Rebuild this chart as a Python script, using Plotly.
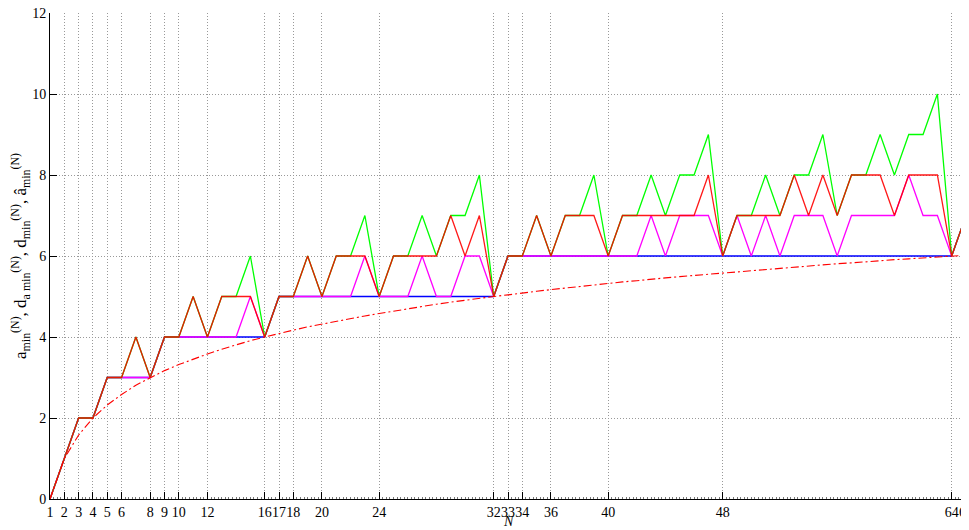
import plotly.graph_objects as go

N = list(range(1, 66))

a_min = [0, 1, 2, 2, 3, 3, 4, 3, 4, 4, 5, 4, 5, 5, 5, 4,
         5, 5, 6, 5, 6, 6, 6, 5, 6, 6, 6, 6, 7, 6, 7, 5,
         6, 6, 7, 6, 7, 7, 7, 6, 7, 7, 7, 7, 7, 7, 8, 6,
         7, 7, 7, 7, 8, 7, 8, 7, 8, 8, 8, 7, 8, 8, 8, 6, 7]

green = [0, 1, 2, 2, 3, 3, 4, 3, 4, 4, 5, 4, 5, 5, 6, 4,
         5, 5, 6, 5, 6, 6, 7, 5, 6, 6, 7, 6, 7, 7, 8, 5,
         6, 6, 7, 6, 7, 7, 8, 6, 7, 7, 8, 7, 8, 8, 9, 6,
         7, 7, 8, 7, 8, 8, 9, 7, 8, 8, 9, 8, 9, 9, 10, 6, 7]

magenta = [0, 1, 2, 2, 3, 3, 3, 3, 4, 4, 4, 4, 4, 4, 5, 4,
           5, 5, 5, 5, 5, 5, 6, 5, 5, 5, 6, 5, 5, 6, 6, 5,
           6, 6, 6, 6, 6, 6, 6, 6, 6, 6, 7, 6, 7, 7, 7, 6,
           7, 6, 7, 6, 7, 7, 7, 6, 7, 7, 7, 7, 8, 7, 7, 6, 7]

blue = [0, 1, 2, 2, 3, 3, 3, 3] + [4] * 8 + [5] * 16 + [6] * 32 + [7]

bound = [0.00, 1.00, 1.58, 2.00, 2.32, 2.58, 2.81, 3.00, 3.17, 3.32,
         3.46, 3.58, 3.70, 3.81, 3.91, 4.00, 4.09, 4.17, 4.25, 4.32,
         4.39, 4.46, 4.52, 4.58, 4.64, 4.70, 4.75, 4.81, 4.86, 4.91,
         4.95, 5.00, 5.04, 5.09, 5.13, 5.17, 5.21, 5.25, 5.29, 5.32,
         5.36, 5.39, 5.43, 5.46, 5.49, 5.52, 5.55, 5.58, 5.61, 5.64,
         5.67, 5.70, 5.73, 5.75, 5.78, 5.81, 5.83, 5.86, 5.88, 5.91,
         5.93, 5.95, 5.98, 6.00, 6.02]

xticks = [1, 2, 3, 4, 5, 6, 8, 9, 10, 12, 16, 17, 18, 20, 24, 32, 33, 34, 36, 40, 48, 64, 65]
yticks = [0, 2, 4, 6, 8, 10, 12]

serif = "Liberation Serif, Times New Roman, serif"

fig = go.Figure()
fig.add_trace(go.Scatter(x=N, y=blue, mode="lines", line=dict(color="#0000ff", width=1.3)))
fig.add_trace(go.Scatter(x=N, y=magenta, mode="lines", line=dict(color="#ff00ff", width=1.3)))
fig.add_trace(go.Scatter(x=N, y=green, mode="lines", line=dict(color="#00ff00", width=1.3)))
fig.add_trace(go.Scatter(x=N, y=a_min, mode="lines", opacity=0.9, line=dict(color="#ff0000", width=1.3)))
fig.add_trace(go.Scatter(x=N, y=bound, mode="lines", line=dict(color="#ff0000", width=1.1, dash="8px,3px,2px,3px")))

fig.update_layout(
    width=961, height=522,
    margin=dict(l=42, r=3, t=5, b=31),
    paper_bgcolor="white", plot_bgcolor="white",
    showlegend=False,
    font=dict(family=serif, size=14, color="black"),
    annotations=[dict(text="<i>N</i>", xref="paper", yref="paper", x=0.5, y=-0.046,
                      xanchor="center", yanchor="middle", showarrow=False,
                      font=dict(family=serif, size=14, color="black"))],
)
fig.update_xaxes(
    range=[1, 65], tickvals=xticks, ticktext=[str(v) for v in xticks],
    tickangle=0, automargin=False, ticklabeloverflow="allow",
    ticks="inside", ticklen=7, tickcolor="black", tickwidth=1,
    showline=True, linecolor="black", linewidth=1,
    showgrid=True, gridcolor="#999999", gridwidth=1, griddash="1px,2px",
    zeroline=False,
    minor=dict(ticks="inside", ticklen=2, dtick=0.25, tickcolor="#777777", showgrid=False),
    tickfont=dict(family=serif, size=14),
)
fig.update_yaxes(
    range=[0, 12], tickvals=yticks, automargin=False, ticklabeloverflow="allow",
    ticks="inside", ticklen=7, tickcolor="black", tickwidth=1,
    showline=True, linecolor="black", linewidth=1,
    showgrid=True, gridcolor="#999999", gridwidth=1, griddash="1px,2px",
    zeroline=False,
    title=dict(text="a<sub>min</sub><sup>(N)</sup>, d<sub>a min</sub><sup>(N)</sup>, d<sub>min</sub><sup>(N)</sup>, â<sub>min</sub><sup>(N)</sup>",
               standoff=4, font=dict(family=serif, size=17)),
    tickfont=dict(family=serif, size=14),
)

fig.write_html("out.html")
